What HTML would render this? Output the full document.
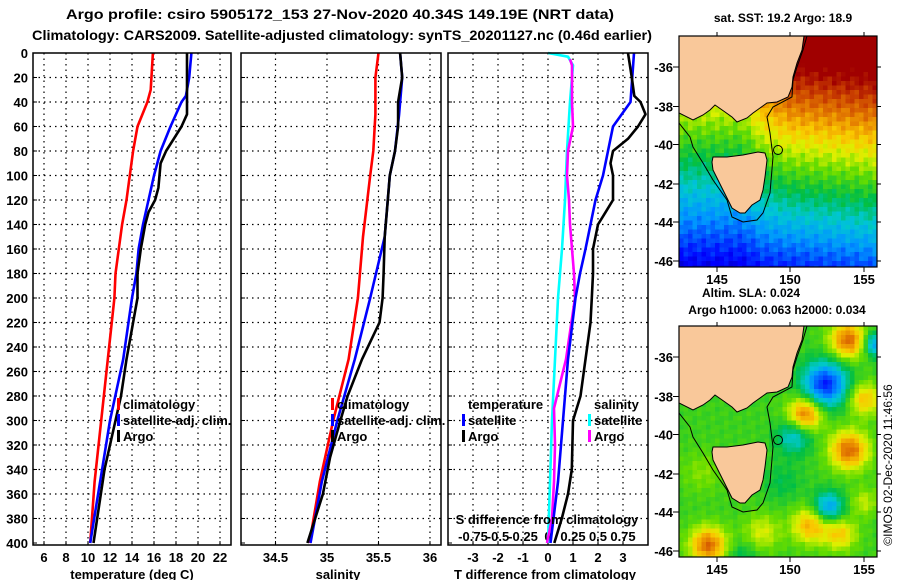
<!DOCTYPE html>
<html><head><meta charset="utf-8"><style>
html,body{margin:0;padding:0;background:#fff;}
svg{display:block;font-family:"Liberation Sans",Arial,sans-serif;font-weight:bold;}
</style></head><body>
<svg id="c" width="900" height="580" viewBox="0 0 900 580" xmlns="http://www.w3.org/2000/svg">
<text x="340" y="19" font-size="14" text-anchor="middle" textLength="548" lengthAdjust="spacingAndGlyphs">Argo profile: csiro 5905172_153 27-Nov-2020 40.34S 149.19E (NRT data)</text>
<text x="342" y="40" font-size="14" text-anchor="middle" textLength="620" lengthAdjust="spacingAndGlyphs">Climatology: CARS2009. Satellite-adjusted climatology: synTS_20201127.nc (0.46d earlier)</text>
<g id="plots"></g>
<g id="maps"></g>
<text transform="translate(892,465) rotate(-90)" font-size="12" font-weight="normal" text-anchor="middle">©IMOS 02-Dec-2020 11:46:56</text>
</svg>
<script>
// ---------- data ----------
const depthT_clim=[0,30,40,60,80,100,120,140,160,180,200,250,300,350,400];
const tempClim=[15.9,15.7,15.4,14.5,14.1,13.8,13.5,13.1,12.8,12.5,12.4,11.8,11.2,10.6,10.2];
const depthT_sat=[0,20,35,40,60,80,100,120,140,160,180,200,250,300,350,400];
const tempSat=[19.4,19.2,18.9,18.5,17.5,16.6,16.0,15.5,15.0,14.6,14.4,14.0,13.2,12.0,11.1,10.2];
const depthT_argo=[0,50,60,70,80,90,100,110,120,130,140,160,180,200,220,250,280,300,340,370,400];
const tempArgo=[19.0,19.0,18.5,17.8,17.1,16.6,16.5,16.4,16.1,15.5,15.2,14.8,14.5,14.5,14.1,13.5,13.0,12.5,11.5,11.0,10.5];
const depthS=[0,20,50,80,100,150,200,250,300,350,400];
const salClim=[35.50,35.47,35.47,35.45,35.42,35.35,35.30,35.21,35.06,34.93,34.83];
const salSat=[35.71,35.73,35.70,35.66,35.61,35.56,35.42,35.27,35.10,34.95,34.84];
const depthS_argo=[0,20,40,60,80,100,120,150,180,200,220,250,280,300,330,360,400];
const salArgo=[35.71,35.73,35.69,35.69,35.66,35.61,35.59,35.56,35.55,35.54,35.51,35.34,35.20,35.13,35.03,34.96,34.81];
const depthDT_sat=[0,40,60,80,100,120,140,160,180,200,250,300,350,400];
const dTSat=[3.44,3.3,2.6,2.4,2.2,1.9,1.7,1.5,1.28,1.1,0.8,0.6,0.4,0.1];
const depthDT_argo=[0,20,35,40,50,60,70,80,90,100,120,130,140,160,180,200,220,250,280,300,340,360,380,400];
const dTArgo=[3.2,3.35,3.45,3.7,3.9,3.6,3.2,2.6,2.5,2.6,2.6,2.3,2.0,1.8,1.8,1.75,1.7,1.5,1.3,1.0,0.95,0.8,0.55,0.25];
const depthDS_sat=[0,3,10,40,80,120,160,200,250,300,350,400];
const dSSat=[0,0.2,0.25,0.22,0.19,0.17,0.14,0.10,0.07,0.04,0.02,0.0];
const depthDS_argo=[5,10,40,60,80,100,120,140,160,180,200,250,270,290,320,350,380,400];
const dSArgo=[0.22,0.24,0.24,0.25,0.2,0.19,0.21,0.22,0.24,0.26,0.27,0.18,0.12,0.06,0.07,0.06,0.04,-0.01];
const tempTicks=[6,8,10,12,14,16,18,20,22];
const salTicks=[34.5,35,35.5,36];
const salTickLabels=["34.5","35","35.5","36"];
const dTTicks=[-3,-2,-1,0,1,2,3];
const dSTicks=[-0.75,-0.5,-0.25,0,0.25,0.5,0.75];
const dSTickLabels=["-0.75","-0.5","-0.25","0","0.25","0.5","0.75"];
const depthTicks=[0,20,40,60,80,100,120,140,160,180,200,220,240,260,280,300,320,340,360,380,400];

const NS="http://www.w3.org/2000/svg";
function mk(tag,attrs,parent){const e=document.createElementNS(NS,tag);for(const k in attrs)e.setAttribute(k,attrs[k]);parent.appendChild(e);return e;}
const plots=document.getElementById('plots');
const Y0=53,YS=1.225,YB=545;
const yOf=d=>Y0+d*YS;
const panels=[
 {l:33,r:231,min:5,max:23,name:'temperature-panel'},
 {l:241,r:441,min:34.165,max:36.107,name:'salinity-panel'},
 {l:448,r:648,min:-4,max:4,name:'difference-panel'}];
function xf(p,v){return p.l+(v-p.min)/(p.max-p.min)*(p.r-p.l);}
const p3s={l:448,r:648,min:-1,max:1};

panels.forEach((p,i)=>{
 const g=mk('g',{},plots);
 
 
 depthTicks.forEach(d=>{
  if(d>0&&d<400){const ln=mk('line',{x1:p.l,x2:p.r,y1:yOf(d),y2:yOf(d),stroke:'#000','stroke-width':1.2,'stroke-dasharray':'1.5,4'},g);
  }
  const tk=mk('line',{x1:p.l,x2:p.l+4,y1:yOf(d),y2:yOf(d),stroke:'#000'},g);
  
  if(i===0){const t=mk('text',{x:28,y:yOf(d)+5,'font-size':13,'text-anchor':'end'},g);t.textContent=d;
   }
 });
});
function xgrid(p,ticks,labels,g){
 ticks.forEach((v,k)=>{const x=xf(p,v);
  const ln=mk('line',{x1:x,x2:x,y1:Y0,y2:YB,stroke:'#000','stroke-width':1.2,'stroke-dasharray':'1.5,4'},g);
  
  const tk=mk('line',{x1:x,x2:x,y1:YB,y2:YB-4,stroke:'#000'},g);
  
  const t=mk('text',{x:x,y:562,'font-size':13,'text-anchor':'middle'},g);t.textContent=labels?labels[k]:v;
  
 });
}
xgrid(panels[0],tempTicks,null,plots);
xgrid(panels[1],salTicks,salTickLabels,plots);
xgrid(panels[2],dTTicks,null,plots);
dSTicks.forEach((v,k)=>{const t=mk('text',{x:xf(p3s,v),y:541,'font-size':13,'text-anchor':'middle'},plots);t.textContent=dSTickLabels[k];
 });
function line(p,depths,vals,color,name){
 const pts=depths.map((d,k)=>xf(p,vals[k]).toFixed(1)+','+yOf(d).toFixed(1)).join(' ');
 const pl=mk('polyline',{points:pts,fill:'none',stroke:color,'stroke-width':2.6,'stroke-linejoin':'round'},plots);
 
}
line(panels[0],depthT_clim,tempClim,'#ff0000','temp-climatology-line');
line(panels[0],depthT_sat,tempSat,'#0000ff','temp-satellite-line');
line(panels[0],depthT_argo,tempArgo,'#000','temp-argo-line');
line(panels[1],depthS,salClim,'#ff0000','sal-climatology-line');
line(panels[1],depthS,salSat,'#0000ff','sal-satellite-line');
line(panels[1],depthS_argo,salArgo,'#000','sal-argo-line');
line(p3s,depthDS_sat,dSSat,'#00ffff','s-diff-satellite-line');
line(p3s,depthDS_argo,dSArgo,'#ff00ff','s-diff-argo-line');
line(panels[2],depthDT_sat,dTSat,'#0000ff','t-diff-satellite-line');
line(panels[2],depthDT_argo,dTArgo,'#000','t-diff-argo-line');
panels.forEach(p=>{const r=mk('rect',{x:p.l,y:Y0,width:p.r-p.l,height:YB-Y0,fill:'none',stroke:'#000','stroke-width':1.5},plots);
 });
function txt(x,y,s,name,anchor,size){const t=mk('text',{x:x,y:y,'font-size':size||13,'text-anchor':anchor||'start'},plots);t.textContent=s;
 return t;}
function bar(x,y,c){const b=mk('rect',{x:x,y:y-11,width:3,height:12,fill:c},plots);}
[[117],[331]].forEach(([x])=>{
 bar(x,409,'#ff0000');txt(x+6,409,'climatology','legend-climatology');
 bar(x,425,'#0000ff');txt(x+6,425,'satellite-adj. clim.','legend-satellite');
 bar(x,441,'#000');txt(x+6,441,'Argo','legend-argo');
});
txt(468,409,'temperature','legend-temperature-heading');
bar(462,425,'#0000ff');txt(468,425,'satellite','legend-t-satellite');
bar(462,441,'#000');txt(468,441,'Argo','legend-t-argo');
txt(594,409,'salinity','legend-salinity-heading');
bar(588,425,'#00ffff');txt(594,425,'satellite','legend-s-satellite');
bar(588,441,'#ff00ff');txt(594,441,'Argo','legend-s-argo');
txt(547,524,'S difference from climatology','s-diff-axis-title','middle');
txt(132,579,'temperature (deg C)','x-axis-title-temperature','middle');
txt(338,579,'salinity','x-axis-title-salinity','middle');
txt(545,579,'T difference from climatology','x-axis-title-difference','middle');

// ---------- maps ----------
const maps=document.getElementById('maps');
const pal=[[0,[0,0,128]],[0.15,[0,0,255]],[0.3,[0,150,255]],[0.4,[0,200,210]],[0.5,[0,190,70]],[0.6,[100,220,0]],[0.68,[220,240,0]],[0.75,[250,200,0]],[0.83,[230,130,0]],[0.92,[200,60,0]],[1,[160,0,0]]];
function col(t){t=Math.max(0,Math.min(1,t));for(let i=1;i<pal.length;i++){if(t<=pal[i][0]){const a=pal[i-1],b=pal[i],f=(t-a[0])/(b[0]-a[0]);return 'rgb('+a[1].map((v,k)=>Math.round(v+(b[1][k]-v)*f)).join(',')+')';}}return 'rgb(160,0,0)';}
const mainland=[[679,36],[804,36],[802,50],[797,63],[793,77],[792,87],[788,97],[777,102],[767,103],[760,108],[753,113],[747,118],[737,122],[732,117],[725,112],[715,105],[710,110],[703,115],[693,120],[679,113]];
const tas=[[713,157],[727,157],[743,155],[758,152],[765,153],[767,160],[765,177],[763,190],[760,200],[752,205],[745,213],[740,213],[732,208],[728,200],[723,190],[718,180],[713,170],[712,162]];
const shelf=[[679,123],[690,137],[693,147],[703,163],[713,180],[727,200],[732,217],[743,222],[757,220],[763,213],[770,193],[773,157],[770,133],[767,117],[773,107],[792,97],[793,80],[797,67],[803,50],[807,36]];
const blobs=[[846,338,0.3,18],[873,342,-0.25,12],[823,382,-0.38,22],[803,412,0.3,17],[862,397,0.2,16],[792,434,-0.18,17],[847,448,0.3,19],[826,505,-0.25,15],[808,523,0.22,18],[838,532,0.18,16],[706,543,0.3,18],[760,530,0.12,18],[862,500,0.1,14],[700,470,0.06,20],[780,480,-0.06,20],[740,555,-0.08,15]];
function drawMap(top,kind,name){
 const g=mk('g',{},maps);
 const L=679,R=877,T=top,B=top+231,cs=4.5;
 for(let y=T;y<B;y+=cs)for(let x=L;x<R;x+=cs){
  let t;const u=(x-L)/198,v=(y-T)/231;
  const n=0.04*Math.sin(x*0.37+y*0.21)*Math.cos(y*0.29-x*0.13);
  if(kind===1){let te=1.12-0.95*v+0.1*(u-0.5);if(u<0.55)te-=0.5*(0.55-u)*(1-v);const tw=0.92-0.8*v;const w=Math.max(0,Math.min(1,(u-0.3)/0.1));t=tw*(1-w)+te*w+n;}
  else{t=0.56+n*0.5;const yy=y-top+326;blobs.forEach(b=>{const d2=(x-b[0])**2+(yy-b[1])**2;t+=b[2]*Math.exp(-d2/(b[3]*b[3]));});}
  mk('rect',{x:x,y:y,width:Math.min(cs,R-x)+0.3,height:Math.min(cs,B-y)+0.3,fill:col(t)},g);
 }
 const dy=top-36;
 const pp=a=>a.map(q=>q[0]+','+(q[1]+dy)).join(' ');
 const ml=mk('polygon',{points:pp(mainland),fill:'#f9c89a',stroke:'#000','stroke-width':1},g);
 const ts=mk('polygon',{points:pp(tas),fill:'#f9c89a',stroke:'#000','stroke-width':1},g);
 const sh=mk('polyline',{points:pp(shelf),fill:'none',stroke:'#000','stroke-width':1},g);
 const c=mk('circle',{cx:778,cy:150+dy,r:4.5,fill:'none',stroke:'#000','stroke-width':1},g);
 const fr=mk('rect',{x:L,y:T,width:R-L,height:B-T,fill:'none',stroke:'#000','stroke-width':1.2},g);
 [[36,67],[38,106.5],[40,144.5],[42,184],[44,222],[46,261]].forEach(([lat,yy])=>{
  const t=mk('text',{x:673,y:yy+dy+5,'font-size':13,'text-anchor':'end'},g);t.textContent='-'+lat;
  
  mk('line',{x1:673,x2:679,y1:yy+dy,y2:yy+dy,stroke:'#000'},g);
  mk('line',{x1:877,x2:881,y1:yy+dy,y2:yy+dy,stroke:'#000'},g);
 });
 [[145,717],[150,790],[155,864]].forEach(([lon,xx])=>{
  const t=mk('text',{x:xx,y:B+17,'font-size':13,'text-anchor':'middle'},g);t.textContent=lon;
  
  mk('line',{x1:xx,x2:xx,y1:B,y2:B+5,stroke:'#000'},g);
  mk('line',{x1:xx,x2:xx,y1:T-4,y2:T,stroke:'#000'},g);
 });
}
drawMap(36,1,'sst-map');
drawMap(326,2,'sla-map');
function mtxt(x,y,s,name){const t=mk('text',{x:x,y:y,'font-size':12,'text-anchor':'middle'},maps);t.textContent=s;}
mtxt(783,22,'sat. SST: 19.2 Argo: 18.9','sst-map-title');
mtxt(751,297,'Altim. SLA: 0.024','sla-value-label');
mtxt(777,314,'Argo h1000: 0.063 h2000: 0.034','sla-map-title');
</script>
</body></html>
